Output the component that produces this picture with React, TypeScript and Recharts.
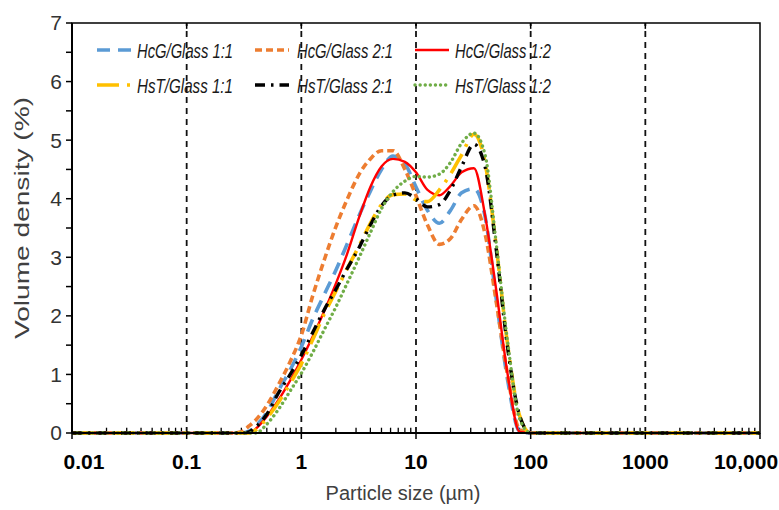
import React from "react";
import {
  Legend,
  Line,
  LineChart,
  ReferenceArea,
  ReferenceLine,
  XAxis,
  YAxis,
} from "recharts";

// particle size classes (µm)
const sizes = [
  0.01, 0.1, 0.25, 0.3, 0.35, 0.4, 0.5, 0.63, 0.8, 1, 1.26, 1.6, 2, 2.5, 3.2, 4,
  5, 6.3, 8, 10, 12.6, 16, 20, 25, 32, 40, 50, 63, 80, 100, 1000, 10000,
];

// volume density (%)
const hcgGlass11 = [
  0, 0, 0, 0, 0.03, 0.12, 0.35, 0.72, 1.08, 1.47, 1.95, 2.38, 2.78, 3.22, 3.72,
  4.13, 4.5, 4.73, 4.6, 4.2, 3.8, 3.58, 3.8, 4.1, 4.17, 3.7, 2.3, 0.9, 0.03, 0, 0, 0,
];
const hcgGlass21 = [
  0, 0, 0, 0.02, 0.12, 0.22, 0.47, 0.82, 1.22, 1.67, 2.35, 2.98, 3.52, 3.98, 4.42,
  4.68, 4.82, 4.82, 4.5, 4.05, 3.55, 3.22, 3.32, 3.65, 3.88, 3.4, 2.25, 0.98, 0.06, 0, 0, 0,
];
const hcgGlass12 = [
  0, 0, 0, 0, 0, 0.07, 0.28, 0.56, 0.9, 1.25, 1.65, 2.1, 2.55, 3.05, 3.69, 4.2,
  4.55, 4.68, 4.63, 4.45, 4.15, 4.06, 4.22, 4.45, 4.52, 3.72, 2.45, 1.0, 0.02, 0, 0, 0,
];
const hstGlass11 = [
  0, 0, 0, 0, 0, 0.05, 0.25, 0.52, 0.85, 1.18, 1.6, 2.05, 2.42, 2.8, 3.2, 3.58,
  3.9, 4.07, 4.08, 3.98, 3.95, 4.15, 4.42, 4.75, 5.1, 4.62, 3.2, 1.5, 0.3, 0, 0, 0,
];
const hstGlass21 = [
  0, 0, 0, 0, 0.02, 0.1, 0.32, 0.68, 1.0, 1.33, 1.72, 2.12, 2.45, 2.8, 3.17, 3.55,
  3.88, 4.06, 4.1, 4.0, 3.86, 3.9, 4.15, 4.55, 4.93, 4.55, 3.15, 1.45, 0.3, 0, 0, 0,
];
const hstGlass12 = [
  0, 0, 0, 0, 0, 0, 0.15, 0.4, 0.72, 1.02, 1.38, 1.78, 2.15, 2.55, 3.0, 3.42,
  3.83, 4.12, 4.3, 4.38, 4.37, 4.42, 4.62, 4.95, 5.12, 4.75, 3.25, 1.55, 0.25, 0, 0, 0,
];

const xTicks = [0.01, 0.1, 1, 10, 100, 1000, 10000];
const xTickLabels = ["0.01", "0.1", "1", "10", "100", "1000", "10,000"];
const gridLines = [0.1, 1, 10, 100, 1000];
const yTicks = [0, 0.5, 1, 1.5, 2, 2.5, 3, 3.5, 4, 4.5, 5, 5.5, 6, 6.5, 7];
const minorMultiples = [2, 3, 4, 5, 6, 7, 8, 9];
const minorTicks = xTicks.slice(0, -1).flatMap((d) => minorMultiples.map((m) => d * m));

const FONT = '"Liberation Sans", Arial, sans-serif';

const series = [
  { key: "hcg11", name: "HcG/Glass 1:1", values: hcgGlass11, color: "#5B9BD5", dash: "13 8", width: 3.6, cap: "butt" },
  { key: "hcg21", name: "HcG/Glass 2:1", values: hcgGlass21, color: "#ED7D31", dash: "7 4", width: 3.6, cap: "butt" },
  { key: "hcg12", name: "HcG/Glass 1:2", values: hcgGlass12, color: "#FF0000", dash: undefined, width: 2.4, cap: "butt" },
  { key: "hst11", name: "HsT/Glass 1:1", values: hstGlass11, color: "#FFC000", dash: "22 8 3 8", width: 3.6, cap: "butt" },
  { key: "hst21", name: "HsT/Glass 2:1", values: hstGlass21, color: "#000000", dash: "10 6 2.5 6", width: 3.4, cap: "butt" },
  { key: "hst12", name: "HsT/Glass 1:2", values: hstGlass12, color: "#70AD47", dash: "0.1 5", width: 3.4, cap: "round" },
];

const data = sizes.map((size, i) => {
  const row: Record<string, number> = { size };
  series.forEach((s) => {
    row[s.key] = s.values[i];
  });
  return row;
});

function XTick({ x, y, payload }: any) {
  const i = xTicks.indexOf(payload.value);
  const shift = i === 0 ? 12 : i === xTicks.length - 1 ? -14 : 0;
  return (
    <text
      x={x + shift}
      y={y + 28}
      textAnchor="middle"
      fontFamily={FONT}
      fontWeight="bold"
      fontSize={21}
      fill="#000"
    >
      {xTickLabels[i]}
    </text>
  );
}

function LegendBox() {
  const cols = [
    { line: 97, text: 137 },
    { line: 255, text: 297 },
    { line: 415, text: 455 },
  ];
  const rows = [50, 85];
  return (
    <svg width={779} height={110} style={{ display: "block" }}>
      {series.map((s, i) => {
        const c = cols[i % 3];
        const y = rows[Math.floor(i / 3)];
        return (
          <g key={s.key}>
            <line
              x1={c.line}
              x2={c.line + 34}
              y1={y}
              y2={y}
              stroke={s.color}
              strokeWidth={s.width}
              strokeDasharray={s.dash}
              strokeLinecap={s.cap as any}
            />
            <text
              x={c.text}
              y={y + 8}
              fontFamily={FONT}
              fontStyle="italic"
              fontSize={21}
              textLength={96}
              lengthAdjust="spacingAndGlyphs"
              fill="#1a1a1a"
            >
              {s.name}
            </text>
          </g>
        );
      })}
    </svg>
  );
}

export default function App() {
  return (
    <div style={{ position: "absolute", left: 0, top: 0, width: 779, height: 510, background: "#fff" }}>
      <LineChart
        width={779}
        height={510}
        data={data}
        margin={{ top: 23, right: 19, bottom: 0, left: 0 }}
      >
        <XAxis
          dataKey="size"
          type="number"
          scale="log"
          domain={[0.01, 10000]}
          allowDataOverflow
          ticks={xTicks}
          interval={0}
          tick={<XTick />}
          tickSize={6}
          tickLine={{ stroke: "#000", strokeWidth: 1.5 }}
          axisLine={{ stroke: "#000", strokeWidth: 2 }}
          height={77}
          label={{
            content: ({ viewBox }: any) => (
              <text
                x={403}
                y={viewBox.y + 67}
                textAnchor="middle"
                fontFamily={FONT}
                fontSize={20}
                fill="#404040"
              >
                Particle size (µm)
              </text>
            ),
          }}
        />
        <YAxis
          type="number"
          domain={[0, 7]}
          ticks={yTicks}
          interval={0}
          width={72}
          tickSize={6}
          tickMargin={4}
          tickFormatter={(v: number) => (Number.isInteger(v) ? String(v) : "")}
          tick={{ fill: "#333", fontSize: 21, fontFamily: FONT }}
          tickLine={{ stroke: "#000", strokeWidth: 1.5 }}
          axisLine={{ stroke: "#000", strokeWidth: 2 }}
          label={{
            content: ({ viewBox }: any) => (
              <text
                transform={`translate(29, ${viewBox.y + viewBox.height / 2 - 10}) rotate(-90)`}
                textAnchor="middle"
                fontFamily={FONT}
                fontSize={21}
                textLength={242}
                lengthAdjust="spacingAndGlyphs"
                fill="#404040"
              >
                Volume density (%)
              </text>
            ),
          }}
        />
        <ReferenceArea
          x1={0.01}
          x2={10000}
          y1={0}
          y2={7}
          fill="none"
          stroke="#000"
          strokeWidth={1.5}
        />
        {gridLines.map((v) => (
          <ReferenceLine
            key={`g${v}`}
            x={v}
            stroke="#111"
            strokeWidth={1.8}
            strokeDasharray="6 5"
          />
        ))}
        {minorTicks.map((v) => (
          <ReferenceLine
            key={`m${v}`}
            segment={[
              { x: v, y: 0 },
              { x: v, y: 0.09 },
            ]}
            stroke="#000"
            strokeWidth={1.3}
          />
        ))}
        {xTicks.slice(1, -1).map((v) => (
          <ReferenceLine
            key={`t${v}`}
            segment={[
              { x: v, y: 7 },
              { x: v, y: 6.9 },
            ]}
            stroke="#000"
            strokeWidth={1.5}
          />
        ))}
        {series.map((s) => (
          <Line
            key={s.key}
            dataKey={s.key}
            name={s.name}
            type="monotone"
            stroke={s.color}
            strokeWidth={s.width}
            strokeDasharray={s.dash}
            strokeLinecap={s.cap as any}
            dot={false}
            activeDot={false}
            isAnimationActive={false}
          />
        ))}
        <Legend
          layout="horizontal"
          verticalAlign="middle"
          align="center"
          content={() => <LegendBox />}
          wrapperStyle={{ left: 0, top: 0, width: 779, height: 110, pointerEvents: "none" }}
        />
      </LineChart>
    </div>
  );
}
